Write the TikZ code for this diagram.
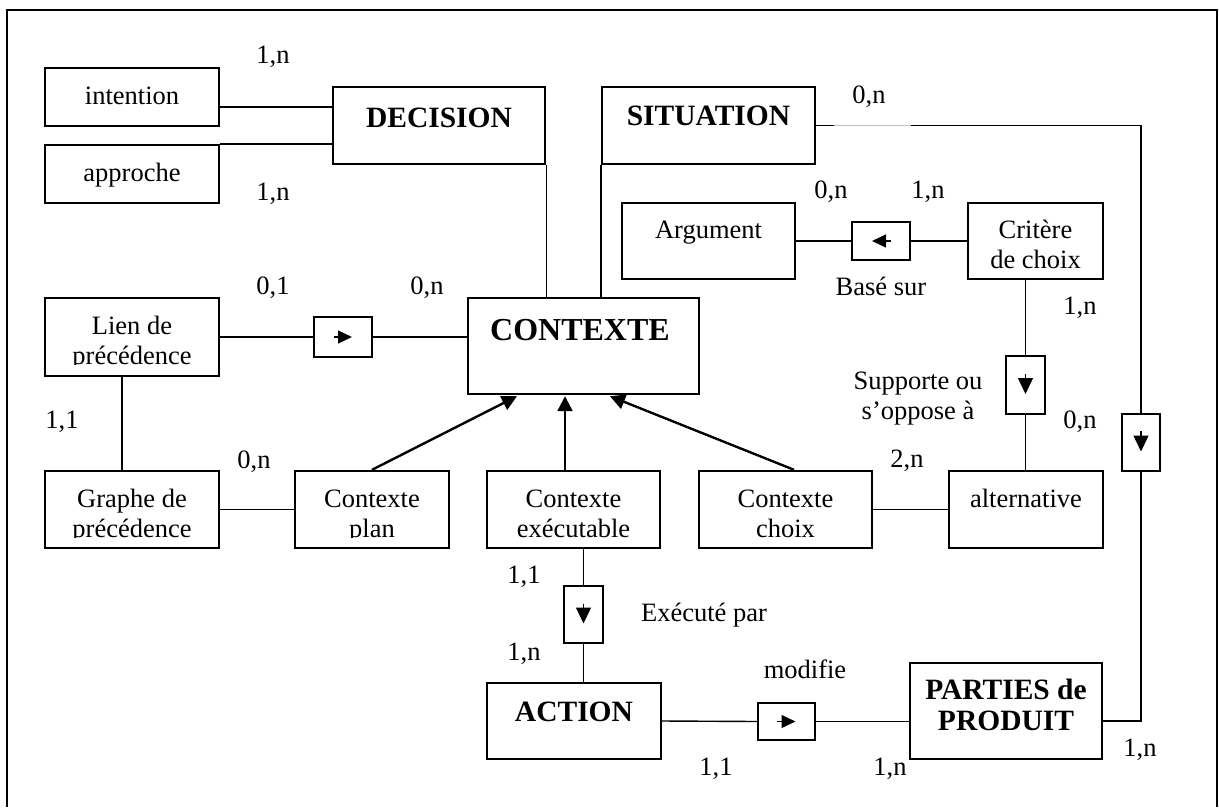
\documentclass[tikz,border=0pt]{standalone}
\usepackage{fontspec}
\setmainfont{Liberation Serif}
\usetikzlibrary{arrows.meta,calc}

% two centred lines whose baseline is the first line's baseline
\newcommand\twolines[2]{\vtop{\halign{\hfil##\hfil\cr#1\cr#2\cr}}}

\begin{document}
\begin{tikzpicture}[x=1pt,y=-1pt,
  ent/.style 2 args={draw,line width=2.4pt,inner sep=0pt,minimum width=#1pt,minimum height=#2pt},
  relbox/.style 2 args={draw,line width=1.4pt,inner sep=0pt,minimum width=#1pt,minimum height=#2pt},
  txt/.style={font=\fontsize{26.5}{30}\selectfont,inner sep=0pt,anchor=base},
  btxt/.style={font=\fontsize{29.5}{31}\selectfont\bfseries,inner sep=0pt,anchor=base},
  card/.style={txt},
  link/.style={line width=1.4pt},
  isa/.style={line width=2.4pt,-{Triangle[length=15pt,width=15pt]}},
  hdir/.style={line width=1.4pt,-{Triangle[length=14pt,width=13pt]}},
  vdir/.style={line width=1.4pt,-{Triangle[length=16pt,width=15pt]}},
  cover/.style={fill=white,draw=none}
]
\useasboundingbox (0,0) rectangle (1219,807);
\fill[white] (0,0) rectangle (1219,807);

% open frame
\draw[line width=2pt] (7,807) -- (7,10) -- (1217,10) -- (1217,807);

% ---- entity boxes ----
\node[ent={174}{58}] (intention) at (132,97) {};
\node[ent={174}{58}] (approche) at (132,174) {};
\node[ent={212}{77}] (decision) at (439,125.5) {};
\node[ent={213}{77}] (situation) at (708.5,125.5) {};
\node[ent={173}{76}] (argument) at (708.5,241) {};
\node[ent={135}{76}] (critere) at (1035.5,241) {};
\node[ent={174}{78}] (lien) at (132,337) {};
\node[ent={231}{96}] (contexte) at (583.5,346) {};
\node[ent={174}{77}] (graphe) at (132,509.5) {};
\node[ent={154}{77}] (plan) at (372,509.5) {};
\node[ent={173}{77}] (executable) at (573.5,509.5) {};
\node[ent={173}{77}] (choix) at (785.5,509.5) {};
\node[ent={154}{77}] (alternative) at (1026,509.5) {};
\node[ent={174}{76}] (action) at (574,721) {};
\node[ent={192}{96}] (parties) at (1006,711) {};

% ---- relation boxes ----
\node[relbox={58}{40}] (ab1) at (343,337) {};
\node[relbox={58}{38}] (ab2) at (881,241) {};
\node[relbox={39}{58}] (ab3) at (1025.5,385) {};
\node[relbox={38}{57}] (ab4) at (1141,442.5) {};
\node[relbox={39}{57}] (ab5) at (583.5,614.5) {};
\node[relbox={57}{37}] (ab6) at (786.5,721.5) {};

% ---- box texts ----
\node[txt] (t-intention) at (132,104) {intention};
\node[txt] (t-approche) at (132,181) {approche};
\node[btxt] (t-decision) at (439,127) {DECISION};
\node[btxt] (t-situation) at (708.5,125) {SITUATION};
\node[txt] (t-argument) at (708.5,238) {Argument};
\node[txt] (t-critere) at (1035.5,238) {\twolines{Critère}{de choix}};
\node[txt] (t-lien) at (132,334) {\twolines{Lien de}{précédence}};
\node[btxt,font=\fontsize{32}{36}\selectfont\bfseries] (t-contexte) at (580,340) {CONTEXTE};
\node[txt] (t-graphe) at (132,507) {\twolines{Graphe de}{précédence}};
\node[txt] (t-plan) at (372,507) {\twolines{Contexte}{plan}};
\node[txt] (t-executable) at (573.5,507) {\twolines{Contexte}{exécutable}};
\node[txt] (t-choix) at (785.5,507) {\twolines{Contexte}{choix}};
\node[txt] (t-alternative) at (1026,507) {alternative};
\node[btxt] (t-action) at (574,721) {ACTION};
\node[btxt] (t-parties) at (1006,699) {\twolines{PARTIES de}{PRODUIT}};

% descenders of the last lines run under the text frame
\fill[cover] ([xshift=2.6pt,yshift=2.6pt]lien.south west) rectangle ([xshift=-2.6pt,yshift=12pt]lien.south east);
\fill[cover] ([xshift=2.6pt,yshift=2.6pt]graphe.south west) rectangle ([xshift=-2.6pt,yshift=11pt]graphe.south east);
\fill[cover] ([xshift=2.6pt,yshift=2.6pt]plan.south west) rectangle ([xshift=-2.6pt,yshift=11pt]plan.south east);

% ---- plain links ----
\draw[link] ([yshift=-10pt]intention.east) -- ([yshift=-10pt]intention.east -| decision.west);
\draw[link] (approche.north east) -- (approche.north east -| decision.west);
\draw[link] (decision.south east) -- (decision.south east |- contexte.north);
\draw[link] (situation.south west) -- (situation.south west |- contexte.north);
\draw[link] (situation.east) -- ([xshift=18pt]situation.east);
\draw[line width=0.8pt,black!25] ([xshift=18pt]situation.east) -- ([xshift=95pt]situation.east);
\draw[link] ([xshift=95pt]situation.east) -- (situation.east -| ab4.north) -- (ab4.north);
\draw[link] (ab4.south) -- (ab4.south |- action.east) -- (action.east -| parties.east);
\draw[link] (lien.east) -- (ab1.west);
\draw[link] (ab1.east) -- (ab1.east -| contexte.west);
\draw[link] ([xshift=-10pt]lien.south) -- ([xshift=-10pt]graphe.north);
\draw[link] (graphe.east) -- (plan.west);
\draw[link] (argument.east) -- (ab2.west);
\draw[link] (ab2.east) -- (critere.west);
\draw[link] (ab3.north |- critere.south) -- (ab3.north);
\draw[link] (ab3.south) -- (ab3.south |- alternative.north);
\draw[link] (choix.east) -- (alternative.west);
\draw[link] (ab5.north |- executable.south) -- (ab5.north);
\draw[link] (ab5.south) -- (ab5.south |- action.north);
\draw[link] (action.east) -- (ab6.west);
\draw[link] (ab6.east) -- (ab6.east -| parties.west);

% ---- generalisation arrows ----
\coordinate (cbase) at ([yshift=-1pt]contexte.south);
\draw[isa] (plan.north) -- ([xshift=-66.5pt]cbase);
\draw[isa] ([xshift=-8.5pt]executable.north) -- ([xshift=-8.5pt]executable.north |- cbase);
\draw[isa] ([xshift=8.5pt]choix.north) -- ([xshift=26.5pt]cbase);

% ---- direction marks in relation boxes ----
\draw[hdir] ([xshift=-9pt]ab1.center) -- ([xshift=9pt]ab1.center);
\draw[hdir] ([xshift=10pt]ab2.center) -- ([xshift=-9pt]ab2.center);
\draw[vdir] ([yshift=11pt]ab3.center) -- ([yshift=-9pt]ab3.center);
\draw[vdir] ([yshift=12pt]ab4.center) -- ([yshift=-9pt]ab4.center);
\draw[vdir] ([yshift=11pt]ab5.center) -- ([yshift=-9pt]ab5.center);
\draw[hdir] ([xshift=-10pt]ab6.center) -- ([xshift=9pt]ab6.center);

% ---- cardinalities and relation names ----
\node[card] (c1) at (273,63) {1,n};
\node[card] (c2) at (273,200) {1,n};
\node[card] (c3) at (869,103) {0,n};
\node[card] (c4) at (831,198) {0,n};
\node[card] (c5) at (928,198) {1,n};
\node[txt] (r-base) at (881,295) {Basé sur};
\node[card] (c6) at (1080,314) {1,n};
\node[card] (c7) at (273,294) {0,1};
\node[card] (c8) at (427,294) {0,n};
\node[txt] (r-supporte) at (918,389) {\twolines{Supporte ou}{s’oppose à}};
\node[card] (c9) at (1080,428) {0,n};
\node[card] (c10) at (62,428) {1,1};
\node[card] (c11) at (254,468) {0,n};
\node[card] (c12) at (907,467) {2,n};
\node[card] (c13) at (524,583) {1,1};
\node[txt] (r-execute) at (704,621) {Exécuté par};
\node[card] (c14) at (524,660) {1,n};
\node[txt] (r-modifie) at (805,678) {modifie};
\node[card] (c15) at (716,775) {1,1};
\node[card] (c16) at (890,775) {1,n};
\node[card] (c17) at (1140,756) {1,n};
\end{tikzpicture}
\end{document}
